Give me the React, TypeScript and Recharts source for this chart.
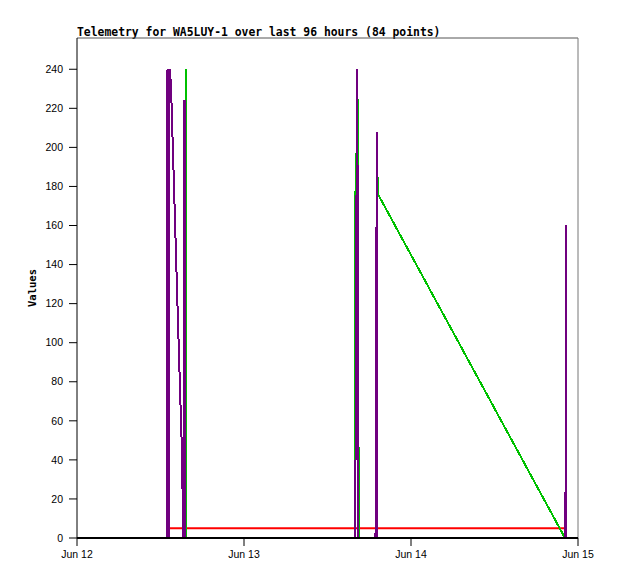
import { LineChart, Line, XAxis, YAxis, ReferenceLine, Label } from 'recharts';

// hours since Jun 12 00:00, value
const purplePoints: [number, number][] = [
  [12.91, 0], [12.93, 177], [13.01, 240], [13.15, 120], [13.22, 0], [13.3, 240],
  [13.51, 232], [13.65, 214], [13.8, 197], [13.94, 180], [14.08, 163], [14.23, 145],
  [14.37, 128], [14.51, 111], [14.66, 94], [14.8, 77], [14.95, 60], [15.09, 43],
  [15.16, 26], [15.23, 10], [15.3, 0], [15.38, 216], [15.45, 224], [15.52, 0],
  [39.95, 0], [40.0, 15], [40.24, 240], [40.38, 145], [40.45, 0],
  [42.9, 0], [42.97, 104], [43.11, 208], [43.16, 0],
  [70.13, 0], [70.2, 11], [70.27, 160], [70.32, 0],
];
const greenPoints: [number, number][] = [
  [12.93, 0], [15.55, 0], [15.62, 240], [15.68, 0],
  [39.95, 0], [39.98, 14], [40.02, 177], [40.38, 225], [40.43, 145], [40.47, 0],
  [43.11, 0], [43.19, 185], [43.26, 176], [70.13, 0],
];
const redPoints: [number, number][] = [[13.3, 5], [70.2, 5]];
const blackPoints: [number, number][] = [[12.93, 0], [70.32, 0]];

const xTicks = [0, 24, 48, 72];
const xTickLabels = ['Jun 12', 'Jun 13', 'Jun 14', 'Jun 15'];
const yTicks = [0, 20, 40, 60, 80, 100, 120, 140, 160, 180, 200, 220, 240];

const toRows = (pts: [number, number][]) => pts.map(([t, v]) => ({ t, v }));

const tickFont = { fill: '#000', fontSize: 10.5, fontFamily: 'Liberation Sans' };

export default function App() {
  return (
    <div style={{ position: 'relative', width: 618, height: 579 }}>
      <style>{'body{margin:0;background:#fff}'}</style>
      <div
        style={{
          position: 'absolute',
          left: 77,
          top: 26,
          fontFamily: 'DejaVu Sans Mono',
          fontWeight: 'bold',
          fontSize: 11.4,
          lineHeight: '12px',
          whiteSpace: 'nowrap',
          color: '#000',
        }}
      >
        Telemetry for WA5LUY-1 over last 96 hours (84 points)
      </div>
      <LineChart width={618} height={579} margin={{ top: 38, right: 40, bottom: 11, left: 27 }}>
        <XAxis
          dataKey="t"
          type="number"
          domain={[0, 72]}
          ticks={xTicks}
          tickFormatter={(v: number) => xTickLabels[xTicks.indexOf(v)]}
          height={30}
          tickSize={8}
          tickMargin={5}
          axisLine={{ stroke: '#000', strokeWidth: 2 }}
          tickLine={{ stroke: '#000' }}
          tick={tickFont}
          allowDataOverflow
        />
        <YAxis
          type="number"
          domain={[0, 256]}
          ticks={yTicks}
          width={50}
          tickSize={8}
          tickMargin={6}
          axisLine={{ stroke: '#000' }}
          tickLine={{ stroke: '#000' }}
          tick={tickFont}
          allowDataOverflow
        >
          <Label
            value="Values"
            angle={-90}
            position="insideLeft"
            offset={5}
            style={{ textAnchor: 'middle', fontFamily: 'DejaVu Sans Mono', fontWeight: 'bold', fontSize: 10.5, fill: '#000' }}
          />
        </YAxis>
        <ReferenceLine y={256} stroke="#555" strokeWidth={1} />
        <ReferenceLine x={72} stroke="#777" strokeWidth={1} />
        <Line data={toRows(blackPoints)} dataKey="v" stroke="#000" strokeWidth={2} dot={false} activeDot={false} isAnimationActive={false} />
        <Line data={toRows(redPoints)} dataKey="v" stroke="#ff0000" strokeWidth={2} dot={false} activeDot={false} isAnimationActive={false} />
        <Line data={toRows(greenPoints)} dataKey="v" stroke="#00c000" strokeWidth={2} dot={false} activeDot={false} isAnimationActive={false} shapeRendering="crispEdges" />
        <Line data={toRows(purplePoints)} dataKey="v" stroke="#70007f" strokeWidth={2} dot={false} activeDot={false} isAnimationActive={false} shapeRendering="crispEdges" />
      </LineChart>
    </div>
  );
}
